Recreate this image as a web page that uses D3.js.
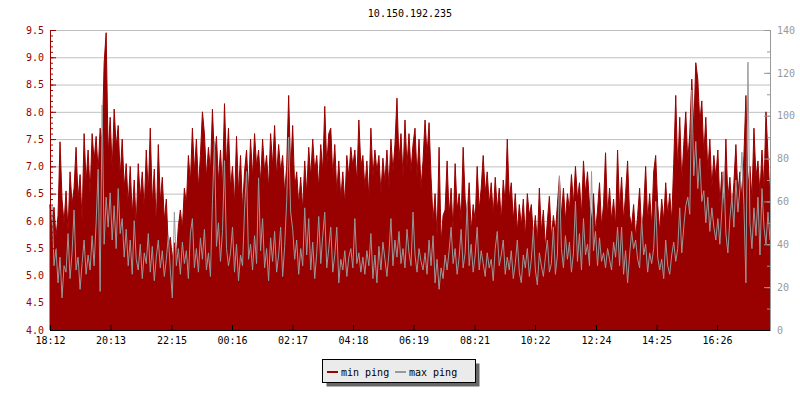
<!DOCTYPE html>
<html><head><meta charset="utf-8">
<script src="https://cdn.jsdelivr.net/npm/d3@7"></script>
<style>
body{margin:0;background:#fff}
svg{display:block}
text{font-family:"DejaVu Sans Mono","Liberation Mono",monospace;font-size:10px}
</style>
</head><body><svg id="c" width="800" height="400"></svg>
<script>
const chartTitle = "10.150.192.235";
const startTime = "18:12";
const spanMinutes = 1440;
const xTickLabels = ["18:12","20:13","22:15","00:16","02:17","04:18","06:19","08:21","10:22","12:24","14:25","16:26"];
const leftDomain = [4.0, 9.5];
const rightDomain = [0, 140];
const seriesNames = ["min ping", "max ping"];

const minPing = [
6.3,5.9,6.25,5.7,6.1,7.45,6.4,5.95,6.55,5.8,6.9,6.3,6.6,7.35,6.4,6.85,6.0,7.6,6.7,
7.3,6.5,7.6,7.1,7.55,6.9,7.7,7.4,8.9,9.45,7.2,7.9,6.95,8.05,7.35,7.75,6.8,7.5,6.6,7.05,
6.3,7.0,6.1,6.75,5.9,7.05,6.4,6.9,6.2,7.3,6.5,7.7,6.3,6.95,5.9,7.4,6.35,6.8,6.0,
6.4,5.5,5.7,5.3,5.6,5.35,5.9,
6.2,5.85,6.6,6.3,7.2,6.7,7.7,6.9,7.5,6.6,7.2,8.0,7.6,6.8,7.35,6.9,8.05,7.1,7.55,6.7,7.3,6.6,8.15,7.0,7.7,
6.6,7.0,6.3,7.55,6.5,7.2,6.2,6.9,7.3,6.5,
7.5,6.8,7.6,7.0,7.3,6.7,7.5,6.9,7.2,6.6,7.6,7.0,7.75,6.8,7.4,6.9,7.2,6.5,7.0,8.3,
6.9,7.75,6.6,6.9,6.3,6.8,6.2,7.1,6.5,7.35,6.8,7.5,6.9,7.2,6.6,7.4,6.9,8.1,7.0,7.6,
7.7,6.8,7.4,6.5,7.1,6.4,6.9,6.3,7.2,6.8,7.35,7.0,7.3,6.7,7.85,7.0,7.2,
6.6,7.1,6.4,7.7,6.8,7.3,6.9,7.2,6.5,7.15,6.7,7.3,6.6,7.5,6.9,7.4,8.25,7.1,7.6,6.8,7.85,7.0,7.6,
6.9,7.4,7.7,6.8,7.5,6.6,7.1,7.85,7.2,7.8,
6.8,6.0,6.5,5.7,7.35,5.6,6.1,6.2,
7.1,6.1,6.6,5.8,7.05,6.2,6.5,6.0,7.35,6.4,6.1,6.7,5.8,6.3,6.0,7.0,6.2,6.6,7.2,
6.5,6.9,6.3,6.7,6.1,6.8,6.2,6.6,6.0,6.75,6.3,7.5,6.4,
6.7,6.0,6.5,5.8,6.3,5.9,6.4,5.7,6.5,6.1,
6.3,5.7,6.1,5.6,6.6,5.8,6.2,5.5,6.0,6.45,5.7,6.1,5.8,6.3,
6.8,6.1,6.6,6.0,6.5,6.2,6.85,6.3,7.0,6.4,6.7,6.1,7.1,6.5,6.9,6.3,
6.0,6.5,5.8,6.2,6.7,5.9,6.3,7.25,6.1,6.6,
6.0,6.4,5.9,7.3,6.2,6.8,6.0,6.5,7.1,6.1,
5.9,6.3,5.7,6.1,6.6,5.8,6.2,7.0,6.0,6.5,5.9,6.9,7.2,6.3,
5.8,6.4,6.0,6.7,6.1,6.5,6.0,
7.05,8.3,6.9,7.9,6.7,7.4,8.0,7.1,7.6,8.6,
7.7,8.9,8.6,7.8,8.2,
7.2,7.9,6.9,7.5,6.6,7.2,6.8,7.3,
6.3,6.9,6.1,7.5,6.4,6.8,6.2,6.7,7.4,6.5,
6.9,6.4,7.2,8.3,6.6,7.0,6.4,7.7,6.8,7.1,6.5,7.3,6.6,8.0,7.2,6.4
];

const maxPing = [
46,58,30,38,22,34,15,30,27,45,24,36,56,28,34,19,31,42,26,
35,28,44,30,50,75,18,105,40,62,48,64,42,58,38,66,45,52,34,47,
30,42,26,51,33,28,40,24,36,31,45,27,39,23,34,42,29,37,25,
33,44,28,15,55,30,38,
26,41,31,37,24,45,52,29,38,27,43,33,47,28,36,25,60,88,39,50,32,46,79,38,30,
36,48,27,40,23,35,30,56,74,33,
40,28,44,31,71,37,52,29,38,23,43,32,46,27,35,48,25,39,60,90,
55,47,33,42,26,38,30,57,35,52,28,41,24,36,53,31,44,55,29,38,
48,27,35,48,22,33,28,37,25,34,38,29,52,31,36,27,34,
26,37,30,45,24,35,22,39,28,41,33,25,36,52,30,42,34,46,31,38,29,47,36,
30,55,35,27,38,32,28,36,26,42,
30,44,22,33,19,29,24,35,
28,37,48,31,38,26,34,47,29,36,59,30,40,27,35,48,28,37,31,
25,36,29,33,23,38,46,30,35,42,26,34,28,
37,24,31,42,27,22,35,29,38,25,
33,47,28,21,36,30,25,34,42,27,31,48,26,35,
72,38,29,44,33,41,27,36,60,32,45,28,52,35,40,30,
74,37,46,30,43,32,36,29,38,33,
28,41,34,48,30,48,26,37,22,35,
46,38,42,33,29,52,35,40,27,36,31,38,60,34,
28,33,24,42,30,26,35,
41,32,38,57,36,48,58,62,54,112,
72,88,66,80,60,
65,50,62,46,57,48,42,52,
40,56,74,45,36,52,62,48,70,55,
66,83,58,22,125,50,38,57,44,62,35,66,48,40,55,42
];

const RED = "#990000", GRAY = "#999999";
const M = {left:50, right:770, top:30, bottom:330};
const svg = d3.select("#c");

const toMin = s => { const [h,m] = s.split(":").map(Number); return h*60+m; };
const t0 = toMin(startTime);
const tickMinutes = xTickLabels.map(l => ((toMin(l) - t0) % 1440 + 1440) % 1440);

const x = d3.scaleLinear().domain([0, spanMinutes]).range([M.left, M.right]);
const yL = d3.scaleLinear().domain(leftDomain).range([M.bottom, M.top]);
const yR = d3.scaleLinear().domain(rightDomain).range([M.bottom, M.top]);
const N = minPing.length;
const tAt = i => i * spanMinutes / (N - 1);

// title
svg.append("text").attr("x", 410).attr("y", 17).attr("text-anchor","middle").attr("fill","#000").text(chartTitle);

// grid
const gGrid = svg.append("g").attr("transform",`translate(${M.left},0)`)
  .call(d3.axisLeft(yL).tickValues(d3.range(8,20).map(v=>v/2)).tickSize(-(M.right-M.left)).tickFormat(""));
gGrid.select(".domain").remove();
gGrid.selectAll("line").attr("stroke","#c0c0c0");

// red area (min ping, left axis)
const area = d3.area().x((d,i)=>x(tAt(i))).y0(yL(leftDomain[0])).y1(d=>yL(d));
svg.append("path").datum(minPing).attr("d", area).attr("fill", RED).attr("stroke", RED).attr("stroke-width", 1);

// gray line (max ping, right axis)
const line = d3.line().x((d,i)=>x(tAt(i))).y(d=>yR(d));
svg.append("path").datum(maxPing).attr("d", line).attr("fill","none").attr("stroke", GRAY).attr("stroke-width", 1);

// left axis
const leftMinor = svg.append("g").attr("transform",`translate(${M.left},0)`)
  .call(d3.axisRight(yL).tickValues(d3.range(40,96).map(v=>v/10)).tickSize(3).tickFormat(""));
const leftMajor = svg.append("g").attr("transform",`translate(${M.left},0)`)
  .call(d3.axisRight(yL).tickValues(d3.range(8,20).map(v=>v/2)).tickSize(6).tickFormat(""));
const leftLab = svg.append("g").attr("transform",`translate(${M.left},0)`)
  .call(d3.axisLeft(yL).tickValues(d3.range(8,20).map(v=>v/2)).tickSize(0).tickPadding(6).tickFormat(d3.format(".1f")));
[leftMinor,leftMajor,leftLab].forEach(g=>{g.selectAll("path,line").attr("stroke",RED);g.selectAll("text").attr("fill",RED).attr("font-family",null).attr("font-size",null);});

// right axis
const rightMinor = svg.append("g").attr("transform",`translate(${M.right},0)`)
  .call(d3.axisLeft(yR).tickValues(d3.range(0,15).map(v=>v*10)).tickSize(3).tickFormat(""));
const rightMajor = svg.append("g").attr("transform",`translate(${M.right},0)`)
  .call(d3.axisLeft(yR).tickValues(d3.range(0,8).map(v=>v*20)).tickSize(6).tickFormat(""));
const rightLab = svg.append("g").attr("transform",`translate(${M.right},0)`)
  .call(d3.axisRight(yR).tickValues(d3.range(0,8).map(v=>v*20)).tickSize(0).tickPadding(7));
[rightMinor,rightMajor,rightLab].forEach(g=>{g.selectAll("path,line").attr("stroke",GRAY);g.selectAll("text").attr("fill",GRAY).attr("font-family",null).attr("font-size",null);});

// bottom axis
const bottomTicks = svg.append("g").attr("transform",`translate(0,${M.bottom})`)
  .call(d3.axisTop(x).tickValues(tickMinutes).tickSize(5).tickFormat(""));
bottomTicks.select(".domain").attr("d", `M${M.left},0.5H${M.right}`);
const bottomLab = svg.append("g").attr("transform",`translate(0,${M.bottom})`)
  .call(d3.axisBottom(x).tickValues(tickMinutes).tickSize(0).tickPadding(7).tickFormat((d,i)=>xTickLabels[i]));
bottomLab.select(".domain").remove();
[bottomTicks,bottomLab].forEach(g=>{g.selectAll("path,line").attr("stroke","#000");g.selectAll("text").attr("fill","#000").attr("font-family",null).attr("font-size",null);});

// legend
const lg = svg.append("g");
lg.append("rect").attr("x",326.5).attr("y",363.5).attr("width",153).attr("height",23).attr("fill","#666");
lg.append("rect").attr("x",322.5).attr("y",359.5).attr("width",153).attr("height",23).attr("fill","#ebebeb").attr("stroke","#000");
const items = [{name:seriesNames[0], color:RED, x0:327}, {name:seriesNames[1], color:GRAY, x0:395}];
items.forEach(it=>{
  lg.append("line").attr("x1",it.x0).attr("x2",it.x0+11).attr("y1",372).attr("y2",372).attr("stroke",it.color).attr("stroke-width",2);
  lg.append("text").attr("x",it.x0+14).attr("y",375.5).attr("fill","#000").text(it.name);
});
</script>
</body></html>
